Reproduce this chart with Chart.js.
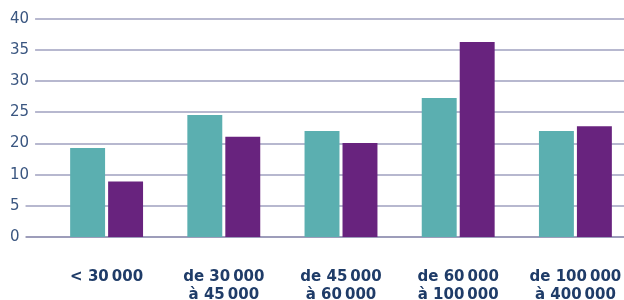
<!DOCTYPE html>
<html>
<head>
<meta charset="utf-8">
<script src="https://cdn.jsdelivr.net/npm/chart.js@4"></script>
<style>
  html, body { margin: 0; padding: 0; background: #fff; overflow: hidden; }
  canvas { display: block; }
</style>
</head>
<body>
<canvas id="chart" width="640" height="300"></canvas>
<script>
'use strict';
// data
var nb = '\u202f';
var categories = [
  ['<' + ' 30' + nb + '000'],
  ['de 30' + nb + '000', 'à 45' + nb + '000'],
  ['de 45' + nb + '000', 'à 60' + nb + '000'],
  ['de 60' + nb + '000', 'à 100' + nb + '000'],
  ['de 100' + nb + '000', 'à 400' + nb + '000']
];
var serieA = [14.3, 19.6, 17.0, 22.3, 17.0];
var serieB = [8.9, 16.1, 15.1, 31.3, 17.8];
// tick labels as printed on the reference (the 15 is missing there)
var tickLabels = ['0', '5', '10', '20', '25', '30', '35', '40'];

var gridColor = '#b7b8cf';
var baseColor = '#9d9dba';
var yFont = '15px "DejaVu Sans"';

// gridlines start right after each tick label
var gridPlugin = {
  id: 'gridFromLabels',
  beforeDatasetsDraw: function (chart) {
    var ctx = chart.ctx;
    var y = chart.scales.y;
    var area = chart.chartArea;
    ctx.save();
    ctx.font = yFont;
    for (var i = 0; i < y.ticks.length; i++) {
      var label = y.ticks[i].label;
      var w = ctx.measureText(label).width;
      var py = Math.round(y.getPixelForValue(y.ticks[i].value));
      ctx.beginPath();
      ctx.lineWidth = 2;
      ctx.strokeStyle = y.ticks[i].value === 0 ? baseColor : gridColor;
      ctx.moveTo(10 + w + 6, py);
      ctx.lineTo(area.right, py);
      ctx.stroke();
    }
    ctx.restore();
  }
};

var chart = new Chart(document.getElementById('chart').getContext('2d'), {
  type: 'bar',
  data: {
    labels: categories,
    datasets: [{
      label: 'A',
      data: serieA,
      backgroundColor: '#5bafb0',
      barPercentage: 0.92,
      categoryPercentage: 0.648
    }, {
      label: 'B',
      data: serieB,
      backgroundColor: '#68237e',
      barPercentage: 0.92,
      categoryPercentage: 0.648
    }]
  },
  options: {
    responsive: false,
    animation: false,
    layout: { padding: { left: 10, right: 6, top: 19, bottom: 0 } },
    plugins: { legend: { display: false }, tooltip: { enabled: false } },
    scales: {
      x: {
        // grid hidden; tickLength only used as the gap above the labels
        grid: { display: false, drawTicks: true, tickLength: 29 },
        border: { display: false },
        ticks: {
          color: '#1f3c68',
          padding: 2,
          maxRotation: 0,
          autoSkip: false,
          font: { family: '"DejaVu Sans"', size: 15, weight: 'bold', lineHeight: 1.2 }
        },
        afterFit: function (scale) { scale.height = 63; }
      },
      y: {
        min: 0,
        max: 35,
        grid: { display: false, drawTicks: false },
        border: { display: false },
        ticks: {
          stepSize: 5,
          color: '#3a5680',
          crossAlign: 'far',
          padding: 0,
          font: { family: '"DejaVu Sans"', size: 15 },
          callback: function (value, index) { return tickLabels[index]; }
        },
        afterFit: function (scale) { scale.width = 38; }
      }
    }
  },
  plugins: [gridPlugin]
});
</script>
</body>
</html>
